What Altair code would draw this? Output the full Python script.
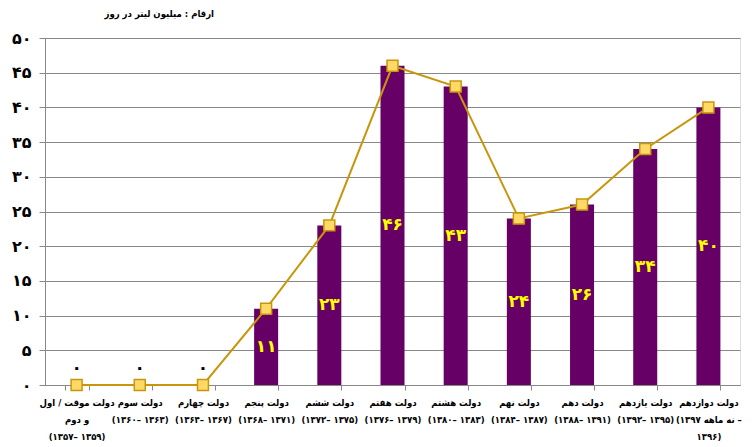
import altair as alt
import pandas as pd
import json

categories = [
    "دولت موقت / اول|و دوم|(۱۳۵۷– ۱۳۵۹)",
    "دولت سوم|(۱۳۶۰– ۱۳۶۳)",
    "دولت چهارم|(۱۳۶۴– ۱۳۶۷)",
    "دولت پنجم|(۱۳۶۸– ۱۳۷۱)",
    "دولت ششم|(۱۳۷۲– ۱۳۷۵)",
    "دولت هفتم|(۱۳۷۶– ۱۳۷۹)",
    "دولت هشتم|(۱۳۸۰– ۱۳۸۳)",
    "دولت نهم|(۱۳۸۴– ۱۳۸۷)",
    "دولت دهم|(۱۳۸۸– ۱۳۹۱)",
    "دولت یازدهم|(۱۳۹۲– ۱۳۹۵)",
    "دولت دوازدهم|(نه ماهه ۱۳۹۷ –|۱۳۹۶)",
]
values = [0, 0, 0, 11, 23, 46, 43, 24, 26, 34, 40]
value_labels = ["۰", "۰", "۰", "۱۱", "۲۳", "۴۶", "۴۳", "۲۴", "۲۶", "۳۴", "۴۰"]
y_ticks = [0, 5, 10, 15, 20, 25, 30, 35, 40, 45, 50]
y_tick_labels = ["۰", "۵", "۱۰", "۱۵", "۲۰", "۲۵", "۳۰", "۳۵", "۴۰", "۴۵", "۵۰"]
title_text = "ارقام : میلیون لیتر در روز"

df = pd.DataFrame({"cat": categories, "val": values, "lab": value_labels})
ymap = json.dumps({str(v): l for v, l in zip(y_ticks, y_tick_labels)}, ensure_ascii=False)

FONT = "DejaVu Sans"
FONT_C = "DejaVu Sans Condensed"

x_axis = alt.Axis(
    labelExpr="split(datum.label, '|')", labelAngle=0, labelFont=FONT_C,
    labelFontSize=9.5, labelFontWeight="bold", labelColor="black",
    labelLineHeight=17, labelPadding=7, tickBand="extent", tickSize=5,
    tickColor="#888888", domainColor="#888888", labelLimit=0,
    labelOverlap=False, labelBound=False,
)
x_scale = alt.Scale(paddingInner=0.62, paddingOuter=0.31)
y_scale = alt.Scale(domain=[0, 50], nice=False)
y_axis = alt.Axis(
    values=y_ticks, labelExpr=ymap + "[datum.label]", labelFont=FONT,
    labelFontSize=16, labelFontWeight="bold", labelColor="black",
    labelPadding=8, tickSize=6, tickColor="#888888", domainColor="#888888",
    grid=True, gridColor="#888888", gridWidth=1, labelOverlap=False,
    tickCount=11,
)


def X():
    return alt.X("cat:N", sort=categories, title=None, scale=x_scale, axis=x_axis)


def Y(field):
    return alt.Y(field, scale=y_scale, title=None, axis=y_axis)


base = alt.Chart(df)

bars = base.mark_bar(color="#660066").encode(x=X(), y=Y("val:Q"))

line = base.mark_line(
    color="#C8960C", strokeWidth=2,
    point=alt.OverlayMarkDef(shape="square", size=120, filled=True,
                             fill="#FFD966", stroke="#C8960C", strokeWidth=1.5, opacity=1),
).encode(x=X(), y=Y("val:Q"))

labels_in = base.transform_filter("datum.val > 0").transform_calculate(
    mid="datum.val / 2"
).mark_text(font=FONT, fontSize=17, fontWeight="bold", color="#FFFF00").encode(
    x=X(), y=Y("mid:Q"), text="lab:N"
)

labels_zero = base.transform_filter("datum.val == 0").mark_text(
    font=FONT, fontSize=17, fontWeight="bold", color="black", dy=-17
).encode(x=X(), y=Y("val:Q"), text="lab:N")

chart = alt.layer(bars, line, labels_in, labels_zero).properties(
    width=695, height=347,
    autosize=alt.AutoSizeParams(type="none"),
    padding={"left": 37, "top": 30, "right": 4, "bottom": 62},
    title=alt.TitleParams(title_text, anchor="start", font=FONT_C, fontSize=9.5,
                          fontWeight="bold", color="black", offset=12, dx=93),
).configure_view(fill="#FFFFCC", stroke="#888888").configure(background="white")

chart.save("out.html", embed_options={"renderer": "svg", "actions": False})
